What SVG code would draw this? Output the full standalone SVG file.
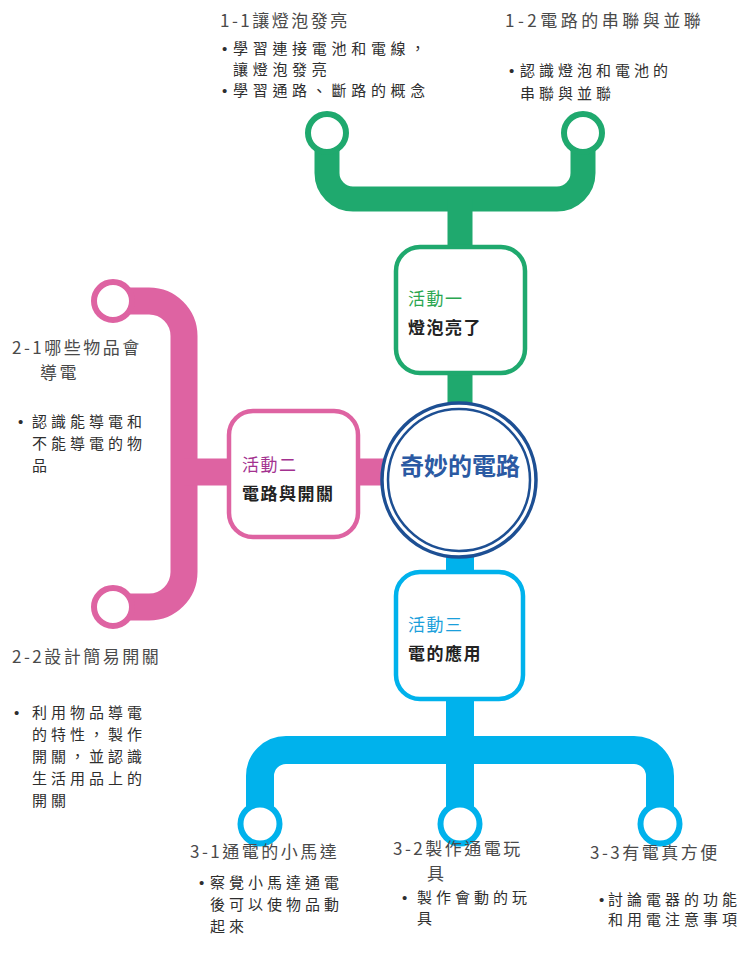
<svg xmlns="http://www.w3.org/2000/svg" width="744" height="955" viewBox="0 0 744 955">
<style>
  text { font-family: "Noto Sans CJK TC", "Noto Sans CJK SC", sans-serif; }
  .h { font-size: 17px; letter-spacing: 2.5px; fill: #4a4a4a; }
  .b { font-size: 15px; letter-spacing: 4px; fill: #2e2e2e; }
  .dot { font-family: "Liberation Sans", sans-serif; font-size: 15px; fill: #2e2e2e; letter-spacing: 0; }
  .lbl { font-size: 17px; letter-spacing: 1.5px; }
  .ttl { font-size: 17px; letter-spacing: 1.5px; font-weight: bold; fill: #222; }
  .g { stroke: #1fa96e; }
  .p { stroke: #de63a2; }
  .c { stroke: #00b2ec; }
  .conn { fill: none; }
  .end { fill: #fff; stroke-width: 6; }
  .box { fill: #fff; stroke-width: 4.5; }
</style>

<g id="connectors" class="conn">
  <path class="g" stroke-width="25" d="M327,133 V173 A26,26 0 0 0 353,199 H557 A26,26 0 0 0 583,173 V133"/>
  <path class="g" stroke-width="25" d="M460,199 V420"/>
  <path class="p" stroke-width="27" d="M113,301 H149 A35,35 0 0 1 184,336 V572 A35,35 0 0 1 149,607 H113"/>
  <path class="p" stroke-width="27" d="M184,472 H420"/>
  <path class="c" stroke-width="28" d="M460,540 V824"/>
  <path class="c" stroke-width="28" d="M260,824 V776 A26,26 0 0 1 286,750 H634 A26,26 0 0 1 660,776 V824"/>
</g>

<g id="center">
  <circle cx="459" cy="480" r="77" fill="#fff" stroke="#1d4f93" stroke-width="3.5"/>
  <circle cx="459" cy="480" r="71" fill="none" stroke="#1d4f93" stroke-width="2.5"/>
  <text x="460" y="475" text-anchor="middle" font-size="24" font-weight="bold" fill="#2b5aa3">奇妙的電路</text>
</g>

<g id="act1">
  <rect class="box g" x="396" y="247" width="129" height="126" rx="24"/>
  <text class="lbl" x="408" y="305" fill="#2aa650">活動一</text>
  <text class="ttl" x="408" y="334">燈泡亮了</text>
</g>

<g id="act2">
  <rect class="box p" x="229" y="411" width="129" height="126" rx="24"/>
  <text class="lbl" x="242" y="471" fill="#a3318f">活動二</text>
  <text class="ttl" x="242" y="500">電路與開關</text>
</g>

<g id="act3">
  <rect class="box c" x="396" y="572" width="127" height="127" rx="24"/>
  <text class="lbl" x="408" y="631" fill="#1b9fdb">活動三</text>
  <text class="ttl" x="408" y="660">電的應用</text>
</g>

<g id="t1-1">
  <circle class="end g" cx="327" cy="133" r="19"/>
  <text class="h" x="220" y="27">1-1讓燈泡發亮</text>
  <text class="b" y="54" style="letter-spacing:4.7px"><tspan class="dot" x="222">•</tspan><tspan x="233">學習連接電池和電線，</tspan></text>
  <text class="b" x="233" y="75" style="letter-spacing:4.7px">讓燈泡發亮</text>
  <text class="b" y="96" style="letter-spacing:4.7px"><tspan class="dot" x="222">•</tspan><tspan x="233">學習通路、斷路的概念</tspan></text>
</g>

<g id="t1-2">
  <circle class="end g" cx="583" cy="133" r="19"/>
  <text class="h" x="505" y="27" style="letter-spacing:3.5px">1-2電路的串聯與並聯</text>
  <text class="b" y="76"><tspan class="dot" x="509">•</tspan><tspan x="520">認識燈泡和電池的</tspan></text>
  <text class="b" x="520" y="99">串聯與並聯</text>
</g>

<g id="t2-1">
  <circle class="end p" cx="113" cy="301" r="19"/>
  <text class="h" x="12" y="354">2-1哪些物品會</text>
  <text class="h" x="40" y="379">導電</text>
  <text class="b" y="427"><tspan class="dot" x="18">•</tspan><tspan x="32">認識能導電和</tspan></text>
  <text class="b" x="32" y="449">不能導電的物</text>
  <text class="b" x="32" y="471">品</text>
</g>

<g id="t2-2">
  <circle class="end p" cx="113" cy="607" r="19"/>
  <text class="h" x="12" y="663">2-2設計簡易開關</text>
  <text class="b" y="718"><tspan class="dot" x="14">•</tspan><tspan x="32">利用物品導電</tspan></text>
  <text class="b" x="32" y="740">的特性，製作</text>
  <text class="b" x="32" y="762">開關，並認識</text>
  <text class="b" x="32" y="784">生活用品上的</text>
  <text class="b" x="32" y="806">開關</text>
</g>

<g id="t3-1">
  <circle class="end c" cx="260" cy="824" r="19.5"/>
  <text class="h" x="190" y="858">3-1通電的小馬達</text>
  <text class="b" y="888"><tspan class="dot" x="199">•</tspan><tspan x="210">察覺小馬達通電</tspan></text>
  <text class="b" x="210" y="910">後可以使物品動</text>
  <text class="b" x="210" y="932">起來</text>
</g>

<g id="t3-2">
  <circle class="end c" cx="460" cy="824" r="19.5"/>
  <text class="h" x="393" y="855">3-2製作通電玩</text>
  <text class="h" x="427" y="880">具</text>
  <text class="b" y="903"><tspan class="dot" x="402">•</tspan><tspan x="417">製作會動的玩</tspan></text>
  <text class="b" x="417" y="924">具</text>
</g>

<g id="t3-3">
  <circle class="end c" cx="660" cy="824" r="19.5"/>
  <text class="h" x="590" y="859">3-3有電真方便</text>
  <text class="b" y="905"><tspan class="dot" x="599">•</tspan><tspan x="608">討論電器的功能</tspan></text>
  <text class="b" x="608" y="925">和用電注意事項</text>
</g>
</svg>
